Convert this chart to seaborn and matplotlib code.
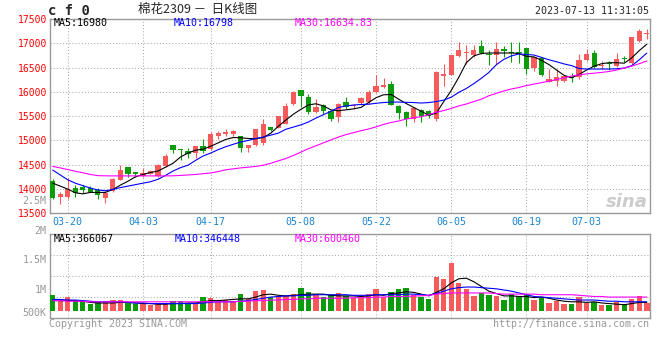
import numpy as np
import pandas as pd
import matplotlib
matplotlib.use("Agg")
import matplotlib.pyplot as plt
import seaborn as sns

# trading days of CF2309, 2023-03-16 .. 2023-07-13
holidays = ["2023-04-05", "2023-05-01", "2023-05-02", "2023-05-03", "2023-06-22", "2023-06-23"]
dates = pd.bdate_range("2023-03-16", "2023-07-13", freq="C", holidays=holidays)
tick_dates = ["03-20", "04-03", "04-17", "05-08", "05-22", "06-05", "06-19", "07-03"]

open_ = [14162, 13841, 13841, 14019, 14032, 14019, 13978, 13807, 13957, 14189,
         14449, 14346, 14271, 14319, 14264, 14483, 14900, 14811, 14784, 14743,
         14886, 14818, 15090, 15125, 15132, 15084, 14845, 14900, 14947, 15268,
         15262, 15344, 15740, 16047, 15897, 15583, 15726, 15597, 15480, 15801,
         15699, 15767, 15788, 15993, 16095, 16170, 15699, 15576, 15450, 15631,
         15597, 15432, 16334, 16341, 16730, 16805, 16764, 16948, 16770, 16764,
         16887, 16805, 16805, 16894, 16484, 16689, 16211, 16218, 16231, 16293,
         16300, 16655, 16805, 16546, 16587, 16525, 16696, 16587, 17051, 17200]
high = [14203, 13943, 14230, 14073, 14073, 14060, 14019, 13950, 14217, 14497,
        14449, 14360, 14435, 14387, 14510, 14715, 14900, 14818, 14838, 14880,
        15036, 15170, 15200, 15227, 15221, 15084, 14913, 15227, 15432, 15268,
        15508, 15774, 16010, 16047, 15965, 15849, 15754, 15617, 15774, 15897,
        15754, 15897, 16040, 16355, 16286, 16218, 15720, 15597, 15680, 15651,
        15617, 16436, 16573, 16764, 17031, 16962, 16969, 17072, 16867, 17017,
        16948, 17017, 17017, 16894, 16723, 16689, 16471, 16471, 16334, 16389,
        16785, 16880, 16860, 16641, 16641, 16805, 16744, 17120, 17290, 17290]
low = [13793, 13698, 13786, 13841, 13910, 13930, 13793, 13711, 13944, 14189,
       14251, 14251, 14251, 14305, 14251, 14456, 14750, 14606, 14640, 14647,
       14743, 14811, 15025, 15084, 15098, 14763, 14756, 14886, 14900, 15193,
       15262, 15344, 15730, 15685, 15535, 15569, 15549, 15405, 15371, 15651,
       15651, 15720, 15747, 15986, 16088, 15720, 15446, 15303, 15380, 15378,
       15467, 15398, 16129, 16341, 16710, 16573, 16710, 16778, 16559, 16573,
       16710, 16607, 16587, 16368, 16423, 16334, 16197, 16129, 16197, 16197,
       16266, 16641, 16491, 16471, 16450, 16505, 16607, 16573, 17031, 17085]
close = [13821, 13896, 13995, 13916, 13978, 13944, 13882, 13916, 14203, 14387,
         14319, 14312, 14333, 14367, 14490, 14674, 14800, 14797, 14715, 14880,
         14777, 15125, 15150, 15173, 15193, 14852, 14900, 15227, 15330, 15207,
         15508, 15719, 16006, 15911, 15583, 15692, 15597, 15433, 15754, 15685,
         15720, 15870, 16006, 16129, 16150, 15720, 15562, 15446, 15660, 15501,
         15501, 16416, 16361, 16764, 16867, 16826, 16867, 16792, 16764, 16880,
         16832, 16798, 16798, 16471, 16710, 16348, 16266, 16313, 16334, 16286,
         16662, 16785, 16505, 16559, 16580, 16676, 16689, 17120, 17256, 17215]

ma5 = [14120, 14060, 13998, 13923, 13900, 13930, 13930, 13930, 13990, 14080,
       14160, 14250, 14300, 14340, 14370, 14450, 14530, 14660, 14740, 14800,
       14820, 14880, 14950, 15020, 15060, 15055, 15040, 15035, 15060, 15150,
       15290, 15420, 15540, 15640, 15730, 15755, 15710, 15630, 15610, 15630,
       15650, 15680, 15780, 15880, 15940, 15945, 15850, 15760, 15680, 15600,
       15520, 15560, 15800, 16030, 16300, 16600, 16740, 16790, 16800, 16800,
       16800, 16800, 16790, 16730, 16720, 16650, 16560, 16450, 16340, 16290,
       16360, 16450, 16530, 16580, 16600, 16600, 16590, 16700, 16850, 16980]
ma10 = [14390, 14290, 14190, 14120, 14070, 14020, 13980, 13965, 13990, 14030,
        14060, 14090, 14120, 14150, 14200, 14280, 14370, 14440, 14490, 14590,
        14680, 14740, 14810, 14870, 14920, 14968, 15000, 15040, 15070, 15110,
        15150, 15230, 15275, 15320, 15380, 15460, 15530, 15600, 15680, 15710,
        15730, 15740, 15745, 15765, 15780, 15790, 15790, 15785, 15780, 15770,
        15780, 15800, 15830, 15890, 15990, 16070, 16170, 16280, 16400, 16560,
        16670, 16740, 16780, 16770, 16758, 16710, 16660, 16620, 16575, 16540,
        16480, 16470, 16470, 16470, 16470, 16475, 16490, 16540, 16660, 16798]
ma30 = [14465, 14435, 14400, 14365, 14335, 14300, 14275, 14272, 14270, 14270,
        14270, 14270, 14270, 14270, 14270, 14270, 14272, 14280, 14290, 14300,
        14315, 14330, 14360, 14395, 14415, 14435, 14450, 14465, 14490, 14530,
        14580, 14627, 14690, 14760, 14830, 14890, 14950, 15010, 15070, 15120,
        15160, 15200, 15235, 15280, 15330, 15370, 15400, 15440, 15465, 15490,
        15530, 15580, 15615, 15660, 15710, 15750, 15800, 15850, 15920, 15970,
        16020, 16060, 16090, 16130, 16160, 16190, 16220, 16255, 16290, 16325,
        16350, 16370, 16385, 16400, 16420, 16450, 16490, 16530, 16580, 16635]

# volume panel (millions, as read against the panel scale)
volume = [0.915, 0.847, 0.881, 0.814, 0.814, 0.763, 0.791, 0.814, 0.831, 0.831,
          0.797, 0.768, 0.768, 0.746, 0.757, 0.768, 0.814, 0.814, 0.768, 0.757,
          0.881, 0.864, 0.797, 0.831, 0.814, 0.932, 0.842, 0.989, 1.006, 0.881,
          0.904, 0.904, 0.932, 1.040, 0.966, 0.932, 0.881, 0.915, 0.949, 0.893,
          0.864, 0.869, 0.932, 1.017, 0.887, 0.966, 1.017, 1.034, 0.915, 0.887,
          0.847, 1.220, 1.186, 1.463, 1.119, 1.017, 0.904, 0.955, 0.915, 0.904,
          0.831, 0.932, 0.881, 0.938, 0.831, 0.859, 0.780, 0.819, 0.768, 0.768,
          0.881, 0.774, 0.797, 0.746, 0.746, 0.797, 0.757, 0.847, 0.893, 0.785]
vol_ma5 = [0.82, 0.82, 0.82, 0.82, 0.81, 0.79, 0.78, 0.78, 0.78, 0.79,
           0.79, 0.78, 0.77, 0.77, 0.76, 0.76, 0.77, 0.77, 0.78, 0.78,
           0.80, 0.82, 0.82, 0.83, 0.84, 0.85, 0.85, 0.88, 0.92, 0.93,
           0.91, 0.90, 0.91, 0.92, 0.93, 0.93, 0.93, 0.91, 0.90, 0.90,
           0.90, 0.89, 0.90, 0.92, 0.91, 0.94, 0.95, 0.97, 0.96, 0.93,
           0.90, 0.96, 1.02, 1.12, 1.19, 1.20, 1.14, 1.06, 0.98, 0.94,
           0.90, 0.90, 0.89, 0.89, 0.87, 0.88, 0.86, 0.83, 0.81, 0.80,
           0.80, 0.79, 0.80, 0.78, 0.77, 0.76, 0.75, 0.77, 0.79, 0.79]
vol_ma10 = [0.84, 0.84, 0.83, 0.83, 0.82, 0.81, 0.80, 0.80, 0.80, 0.80,
            0.79, 0.78, 0.78, 0.77, 0.77, 0.77, 0.77, 0.77, 0.77, 0.77,
            0.78, 0.79, 0.80, 0.80, 0.80, 0.81, 0.82, 0.84, 0.86, 0.88,
            0.89, 0.90, 0.90, 0.91, 0.91, 0.92, 0.92, 0.92, 0.92, 0.92,
            0.91, 0.91, 0.91, 0.92, 0.92, 0.92, 0.92, 0.93, 0.93, 0.92,
            0.91, 0.94, 0.98, 1.02, 1.04, 1.05, 1.05, 1.04, 1.03, 1.02,
            1.00, 0.98, 0.95, 0.92, 0.89, 0.88, 0.87, 0.86, 0.85, 0.84,
            0.83, 0.83, 0.83, 0.82, 0.81, 0.81, 0.80, 0.80, 0.80, 0.80]
vol_ma30 = [0.82, 0.82, 0.81, 0.81, 0.81, 0.80, 0.80, 0.80, 0.80, 0.80,
            0.80, 0.80, 0.80, 0.80, 0.80, 0.80, 0.80, 0.80, 0.80, 0.80,
            0.80, 0.80, 0.80, 0.80, 0.80, 0.81, 0.81, 0.82, 0.82, 0.83,
            0.83, 0.84, 0.84, 0.85, 0.85, 0.86, 0.86, 0.86, 0.86, 0.86,
            0.87, 0.87, 0.87, 0.88, 0.88, 0.89, 0.89, 0.89, 0.90, 0.90,
            0.91, 0.93, 0.94, 0.95, 0.95, 0.95, 0.95, 0.95, 0.95, 0.94,
            0.93, 0.93, 0.93, 0.93, 0.93, 0.92, 0.92, 0.92, 0.92, 0.92,
            0.91, 0.90, 0.89, 0.89, 0.88, 0.88, 0.88, 0.88, 0.88, 0.88]
vol_labels = ["2.5M", "2M", "1.5M", "1M"]
vol_label_values = [2.5, 2.0, 1.5, 1.0]

header_ma = ["MA5:16980", "MA10:16798", "MA30:16634.83"]
header_vol = ["MA5:366067", "MA10:346448", "MA30:600460"]

RED = "#f65a5a"
GREEN = "#0b9b0b"
GRID = "#aaaaaa"
EDGE = "#999999"
TICK_BLUE = "#1c84cc"
DOTS = (0, (1, 2))
W, H = 660, 360

sns.set_style("white")
plt.rcParams["font.family"] = ["DejaVu Sans Mono", "Noto Sans CJK SC"]

df = pd.DataFrame({"open": open_, "high": high, "low": low, "close": close,
                   "ma5": ma5, "ma10": ma10, "ma30": ma30, "vol": volume,
                   "vma5": vol_ma5, "vma10": vol_ma10, "vma30": vol_ma30})
df["idx"] = np.arange(len(df))
df["label"] = dates.strftime("%m-%d")
colors = np.where(df["close"] >= df["open"], RED, GREEN)
tick_idx = [list(df["label"]).index(t) for t in tick_dates]


def px(x, y):
    return x / W, 1 - y / H


fig = plt.figure(figsize=(W / 100, H / 100), dpi=100)
ax = fig.add_axes([50 / W, 1 - 213.3 / H, 599.5 / W, 194.3 / H])
axv = fig.add_axes([50 / W, 1 - 317.7 / H, 599.5 / W, 83.4 / H])

# --- candles
ax.vlines(df["idx"], df["low"], df["high"], colors=colors, lw=0.8, zorder=3)
body = np.maximum((df["close"] - df["open"]).abs(), 20)
mid = (df["close"] + df["open"]) / 2
ax.bar(df["idx"], body, bottom=mid - body / 2, width=0.7, color=colors, lw=0, zorder=3)

for col, c in [("ma5", "black"), ("ma10", "#0000ff"), ("ma30", "#ff00ff")]:
    sns.lineplot(data=df, x="idx", y=col, ax=ax, color=c, lw=0.8, zorder=4)

ax.set_xlim(-0.36, 79.36)
ax.set_ylim(13500, 17500)
ax.set_yticks(np.arange(13500, 17501, 500))
ax.set_xticks(tick_idx, tick_dates)
ax.tick_params(axis="y", length=0, pad=2, labelsize=7, labelcolor="#ff0000")
ax.tick_params(axis="x", length=0, pad=2.5, labelsize=7.2, labelcolor=TICK_BLUE)
ax.grid(True, ls=DOTS, color=GRID, lw=0.75)
ax.set_xlabel("")
ax.set_ylabel("")

# --- volume
axv.bar(df["idx"], df["vol"] - 0.649, bottom=0.649, width=0.72, color=colors, lw=0, zorder=3)
for col, c in [("vma5", "black"), ("vma10", "#0000ff"), ("vma30", "#ff00ff")]:
    sns.lineplot(data=df, x="idx", y=col, ax=axv, color=c, lw=0.8, zorder=4)
axv.set_xlim(-0.36, 79.36)
axv.set_ylim(0.5305, 1.944)
axv.set_xticks(tick_idx, [])
axv.set_yticks([])
axv.tick_params(length=0)
axv.grid(True, axis="x", ls=DOTS, color=GRID, lw=0.75)
for f in (0.25, 0.5, 0.75):
    axv.plot([0, 1], [f, f], transform=axv.transAxes, ls=DOTS, color=GRID, lw=0.75, zorder=1)
axv.set_xlabel("")
axv.set_ylabel("")
ytr = axv.get_yaxis_transform()
for lab, v in zip(vol_labels, vol_label_values):
    axv.text(-0.006, v, lab, transform=ytr, ha="right", va="center", fontsize=7.2,
             color=EDGE, clip_on=False)
axv.text(-0.006, 0.0, "500K", transform=axv.transAxes, ha="right", va="bottom",
         fontsize=7.2, color=EDGE, clip_on=False)

for a in (ax, axv):
    for s in a.spines.values():
        s.set_color(EDGE)
        s.set_linewidth(1)

# --- texts
fig.text(*px(48, 11), "c f 0", fontsize=10, fontweight="bold", family="DejaVu Sans Mono",
         ha="left", va="center")
fig.text(*px(198, 10), "棉花2309 －  日K线图", fontsize=9,
         family=["Noto Sans CJK SC", "DejaVu Sans"], ha="center", va="center")
fig.text(*px(649, 11), "2023-07-13 11:31:05", fontsize=7.2, ha="right", va="center")
for (t, c, x) in zip(header_ma, ["black", "#0000ff", "#ff00ff"], [54, 174, 295]):
    fig.text(*px(x, 23.5), t, fontsize=7.2, color=c, ha="left", va="center")
for (t, c, x) in zip(header_vol, ["black", "#0000ff", "#ff00ff"], [54, 175, 295]):
    fig.text(*px(x, 238.5), t, fontsize=7.2, color=c, ha="left", va="center")
fig.text(*px(49, 324), "Copyright 2023 SINA.COM", fontsize=7.2, color=EDGE, ha="left", va="center")
fig.text(*px(649, 324), "http://finance.sina.com.cn", fontsize=7.2, color=EDGE,
         ha="right", va="center")
fig.text(*px(648, 202), "sina", fontsize=13, fontweight="bold", style="italic",
         family="DejaVu Sans", color="#cccccc", ha="right", va="center")

fig.savefig("out.png", dpi=100)
